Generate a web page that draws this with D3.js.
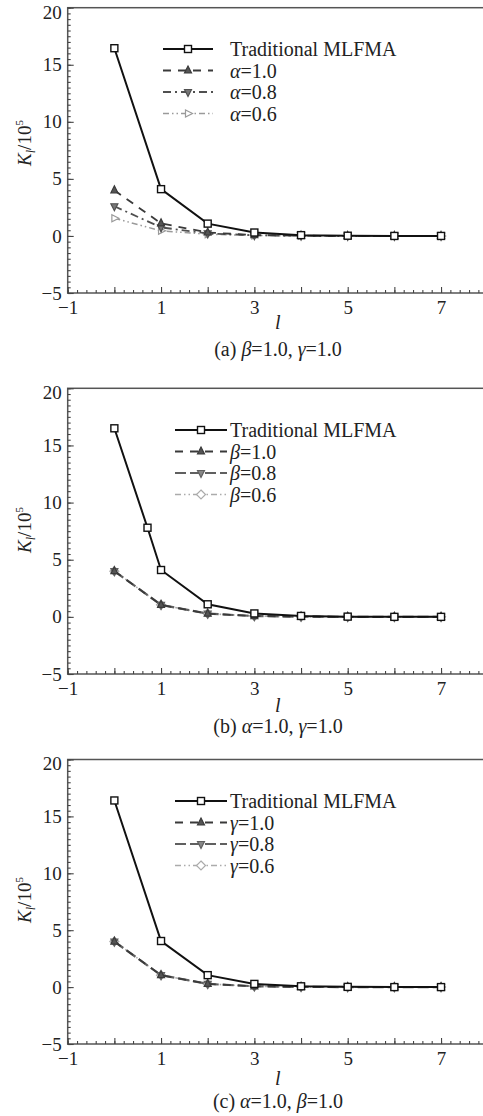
<!DOCTYPE html>
<html>
<head>
<meta charset="utf-8">
<script src="https://cdn.jsdelivr.net/npm/d3@7"></script>
<style>
  body { margin: 0; background: #fff; }
  svg { display: block; }
  text { font-family: "Liberation Serif", "DejaVu Serif", serif; fill: #222; }
</style>
</head>
<body>
<div id="chart"></div>
<script>
// level index on the x axis
const levels = [0, 1, 2, 3, 4, 5, 6, 7];
const levelsB = [0, 0.71, 1, 2, 3, 4, 5, 6, 7];   // panel (b) traditional curve has an extra point

// panel (a)
const tradA = [16.45, 4.1, 1.08, 0.3, 0.07, 0.02, 0.0, 0.0];
const alpha10 = [4.0, 1.1, 0.3, 0.08, 0.02, 0.0, 0.0, 0.0];
const alpha08 = [2.6, 0.75, 0.22, 0.06, 0.02, 0.0, 0.0, 0.0];
const alpha06 = [1.55, 0.45, 0.15, 0.04, 0.01, 0.0, 0.0, 0.0];

// panel (b)
const tradB = [16.5, 7.8, 4.1, 1.1, 0.3, 0.08, 0.02, 0.0, 0.0];
const beta10 = [4.0, 1.05, 0.28, 0.07, 0.02, 0.0, 0.0, 0.0];
const beta08 = [4.0, 1.05, 0.28, 0.07, 0.02, 0.0, 0.0, 0.0];
const beta06 = [4.0, 1.05, 0.28, 0.07, 0.02, 0.0, 0.0, 0.0];

// panel (c)
const tradC = [16.4, 4.05, 1.05, 0.28, 0.07, 0.02, 0.0, 0.0];
const gamma10 = [4.0, 1.05, 0.28, 0.07, 0.02, 0.0, 0.0, 0.0];
const gamma08 = [4.0, 1.05, 0.28, 0.07, 0.02, 0.0, 0.0, 0.0];
const gamma06 = [4.0, 1.05, 0.28, 0.07, 0.02, 0.0, 0.0, 0.0];

const yTicks = [-5, 0, 5, 10, 15, 20];
const xLabelTicks = [-1, 1, 3, 5, 7];
const xDomain = [-1, 8];
const yDomain = [-5, 20];

const W = 483, H = 1116;
const serif = '"Liberation Serif", "DejaVu Serif", serif';

const svg = d3.select("#chart").append("svg")
	.attr("width", W)
	.attr("height", H);

// shared line / marker styles
const styles = {
	trad:  { color: "#111", width: 2, dash: null, marker: "square", fill: "#fff" },
	s10:   { color: "#3a3a3a", width: 1.8, dash: "8,7", marker: "triUp", fill: "#555" },
	s08a:  { color: "#505050", width: 1.8, dash: "8,4,2,4", marker: "triDown", fill: "#777" },
	s06a:  { color: "#9a9a9a", width: 1.5, dash: "6,3,1.5,3,1.5,3", marker: "triRight", fill: "#fff" },
	s08b:  { color: "#606060", width: 2.2, dash: "11,4", marker: "triDown", fill: "#888" },
	s06b:  { color: "#ababab", width: 1.6, dash: "6,3,1.5,3,1.5,3", marker: "diamond", fill: "#fff" }
};

const panels = [
	{
		top: 7.7, bottom: 293, tag: "(a)",
		caption: [["β", true], ["=1.0, ", false], ["γ", true], ["=1.0", false]],
		captionY: 356, lY: 329, labelY: 143,
		legendX0: 163, legendX1: 213, legendY: 49,
		series: [
			{ name: [["Traditional MLFMA", false]], x: levels, y: tradA, st: styles.trad },
			{ name: [["α", true], ["=1.0", false]], x: levels, y: alpha10, st: styles.s10 },
			{ name: [["α", true], ["=0.8", false]], x: levels, y: alpha08, st: styles.s08a },
			{ name: [["α", true], ["=0.6", false]], x: levels, y: alpha06, st: styles.s06a }
		]
	},
	{
		top: 388.3, bottom: 674, tag: "(b)",
		caption: [["α", true], ["=1.0, ", false], ["γ", true], ["=1.0", false]],
		captionY: 733, lY: 712, labelY: 530,
		legendX0: 175, legendX1: 227, legendY: 430,
		series: [
			{ name: [["Traditional MLFMA", false]], x: levelsB, y: tradB, st: styles.trad },
			{ name: [["β", true], ["=1.0", false]], x: levels, y: beta10, st: styles.s10 },
			{ name: [["β", true], ["=0.8", false]], x: levels, y: beta08, st: styles.s08b },
			{ name: [["β", true], ["=0.6", false]], x: levels, y: beta06, st: styles.s06b }
		]
	},
	{
		top: 759.5, bottom: 1044, tag: "(c)",
		caption: [["α", true], ["=1.0, ", false], ["β", true], ["=1.0", false]],
		captionY: 1108, lY: 1085, labelY: 900,
		legendX0: 175, legendX1: 227, legendY: 801,
		series: [
			{ name: [["Traditional MLFMA", false]], x: levels, y: tradC, st: styles.trad },
			{ name: [["γ", true], ["=1.0", false]], x: levels, y: gamma10, st: styles.s10 },
			{ name: [["γ", true], ["=0.8", false]], x: levels, y: gamma08, st: styles.s08b },
			{ name: [["γ", true], ["=0.6", false]], x: levels, y: gamma06, st: styles.s06b }
		]
	}
];

const x = d3.scaleLinear().domain(xDomain).range([67.7, 487.7]);

function drawMarker(g, type, cx, cy, st) {
	const s = 3.5;
	let pts;
	if (type === "square") {
		g.append("rect")
			.attr("x", cx - s).attr("y", cy - s)
			.attr("width", 2 * s).attr("height", 2 * s)
			.attr("fill", st.fill).attr("stroke", st.color).attr("stroke-width", 1.4);
		return;
	}
	if (type === "triUp") pts = [[cx, cy - s - 1], [cx + s, cy + s - 1], [cx - s, cy + s - 1]];
	if (type === "triDown") pts = [[cx, cy + s + 1], [cx + s, cy - s + 1], [cx - s, cy - s + 1]];
	if (type === "triRight") pts = [[cx + s + 1, cy], [cx - s + 1, cy - s], [cx - s + 1, cy + s]];
	if (type === "diamond") pts = [[cx, cy - s - 1], [cx + s + 1, cy], [cx, cy + s + 1], [cx - s - 1, cy]];
	g.append("polygon")
		.attr("points", pts.map(p => p.join(",")).join(" "))
		.attr("fill", st.fill).attr("stroke", st.color).attr("stroke-width", 1.2);
}

function appendRich(textSel, parts) {
	parts.forEach(([t, it]) => {
		textSel.append("tspan")
			.style("font-style", it ? "italic" : "normal")
			.text(t);
	});
}

panels.forEach(p => {
	const y = d3.scaleLinear().domain(yDomain).range([p.bottom, p.top]);
	const g = svg.append("g");

	// frame (right edge falls outside the picture)
	g.append("rect")
		.attr("x", x(xDomain[0])).attr("y", y(yDomain[1]))
		.attr("width", x(xDomain[1]) - x(xDomain[0]))
		.attr("height", y(yDomain[0]) - y(yDomain[1]))
		.attr("fill", "none").attr("stroke", "#555").attr("stroke-width", 1.5);

	// x axis: minor, major, labels (ticks point inward)
	const xAxisG = g.append("g").attr("transform", `translate(0,${p.bottom})`);
	xAxisG.append("g").call(d3.axisBottom(x).tickValues(d3.range(-1, 8.01, 0.2)).tickSize(-3).tickFormat(""));
	xAxisG.append("g").call(d3.axisBottom(x).tickValues(d3.range(-1, 9, 1)).tickSize(-6).tickFormat(""));
	xAxisG.append("g").call(d3.axisBottom(x).tickValues(xLabelTicks).tickSize(0).tickPadding(8))
		.selectAll("text").style("font-size", "19px").style("font-family", serif);

	// y axis
	const yAxisG = g.append("g").attr("transform", `translate(${x(xDomain[0])},0)`);
	yAxisG.append("g").call(d3.axisLeft(y).tickValues(d3.range(-5, 20.01, 0.5)).tickSize(-3).tickFormat(""));
	yAxisG.append("g").call(d3.axisLeft(y).tickValues(yTicks).tickSize(-6).tickPadding(6))
		.selectAll("text").style("font-size", "19px").style("font-family", serif)
		.attr("dy", d => d === 20 ? "0.55em" : "0.32em");

	g.selectAll(".domain").remove();
	g.selectAll(".tick line").attr("stroke", "#444").attr("stroke-width", 1.1);

	// series
	p.series.slice().reverse().forEach(s => {
		const pts = s.x.map((xv, i) => [xv, s.y[i]]);
		const line = d3.line().x(d => x(d[0])).y(d => y(d[1]));
		g.append("path")
			.attr("d", line(pts))
			.attr("fill", "none")
			.attr("stroke", s.st.color)
			.attr("stroke-width", s.st.width)
			.attr("stroke-dasharray", s.st.dash);
		pts.forEach(d => drawMarker(g, s.st.marker, x(d[0]), y(d[1]), s.st));
	});

	// legend
	p.series.forEach((s, i) => {
		const ly = p.legendY + i * 21.5;
		g.append("line")
			.attr("x1", p.legendX0).attr("x2", p.legendX1)
			.attr("y1", ly).attr("y2", ly)
			.attr("stroke", s.st.color)
			.attr("stroke-width", s.st.width)
			.attr("stroke-dasharray", s.st.dash);
		drawMarker(g, s.st.marker, (p.legendX0 + p.legendX1) / 2, ly, s.st);
		const t = g.append("text")
			.attr("x", 230).attr("y", ly)
			.attr("dy", "0.35em")
			.style("font-size", "20px");
		appendRich(t, s.name);
	});

	// y label K_l/10^5
	const yl = g.append("text")
		.attr("transform", `translate(31,${p.labelY}) rotate(-90)`)
		.attr("text-anchor", "middle")
		.style("font-size", "19px");
	yl.append("tspan").style("font-style", "italic").text("K");
	yl.append("tspan").style("font-style", "italic").style("font-size", "12px").attr("dy", 4).text("l");
	yl.append("tspan").attr("dy", -4).text("/10");
	yl.append("tspan").style("font-size", "11px").attr("dy", -8).text("5");

	// x label
	g.append("text")
		.attr("x", x(3.5)).attr("y", p.lY)
		.attr("text-anchor", "middle")
		.style("font-size", "20px").style("font-style", "italic")
		.text("l");

	// caption
	const cap = g.append("text")
		.attr("x", 278).attr("y", p.captionY)
		.attr("text-anchor", "middle")
		.style("font-size", "20px");
	appendRich(cap, [[p.tag + " ", false]].concat(p.caption));
});
</script>
</body>
</html>
